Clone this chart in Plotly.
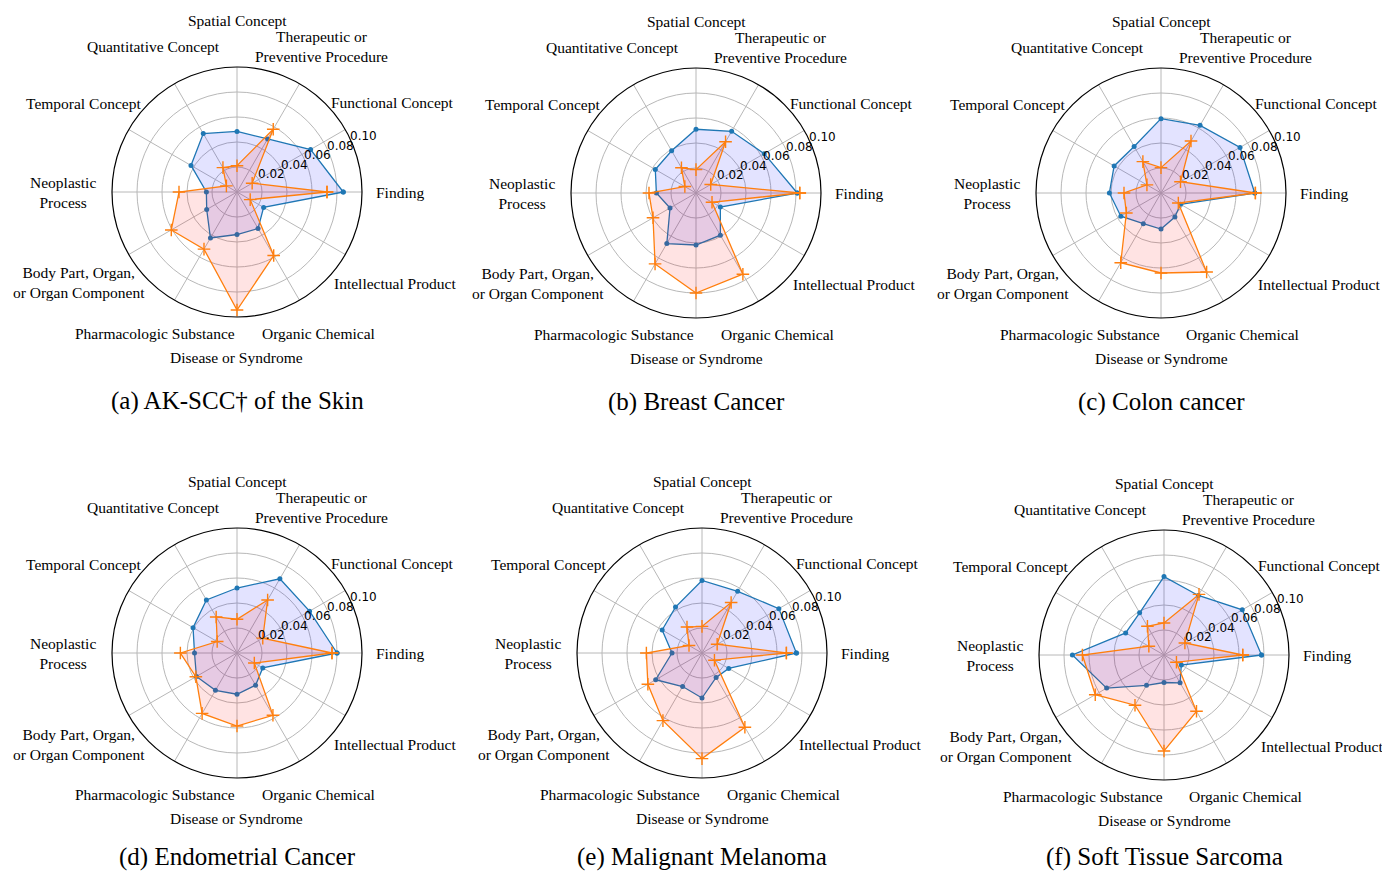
import math
import plotly.graph_objects as go

categories = ["Finding", "Functional Concept", "Therapeutic or Preventive Procedure",
              "Spatial Concept", "Quantitative Concept", "Temporal Concept",
              "Neoplastic Process", "Body Part, Organ, or Organ Component",
              "Pharmacologic Substance", "Disease or Syndrome", "Organic Chemical",
              "Intellectual Product"]
category_labels = ["Finding", "Functional Concept", "Therapeutic or<br>Preventive Procedure",
                   "Spatial Concept", "Quantitative Concept", "Temporal Concept",
                   "Neoplastic<br>Process", "Body Part, Organ,<br>or Organ Component",
                   "Pharmacologic Substance", "Disease or Syndrome", "Organic Chemical",
                   "Intellectual Product"]

titles = ["(a) AK-SCC† of the Skin", "(b) Breast Cancer", "(c) Colon cancer",
          "(d) Endometrial Cancer", "(e) Malignant Melanoma", "(f) Soft Tissue Sarcoma"]

blue_a = [0.085, 0.068, 0.049, 0.0485, 0.054, 0.0425, 0.0245, 0.028, 0.0425, 0.034, 0.0337, 0.0246]
orange_a = [0.072, 0.014, 0.058, 0.021, 0.0225, 0.0098, 0.0464, 0.0607, 0.0528, 0.0944, 0.0587, 0.0122]
blue_b = [0.081, 0.063, 0.057, 0.051, 0.039, 0.0376, 0.0317, 0.024, 0.0467, 0.0416, 0.039, 0.0225]
orange_b = [0.083, 0.0136, 0.0473, 0.0187, 0.0233, 0.0103, 0.0376, 0.0397, 0.0655, 0.080, 0.075, 0.0148]
blue_c = [0.075, 0.073, 0.0625, 0.0595, 0.043, 0.0433, 0.0413, 0.0371, 0.0283, 0.0288, 0.0222, 0.018]
orange_c = [0.0755, 0.018, 0.048, 0.0203, 0.029, 0.013, 0.0296, 0.032, 0.0644, 0.064, 0.073, 0.016]
blue_d = [0.080, 0.067, 0.0686, 0.052, 0.049, 0.0406, 0.034, 0.0375, 0.0345, 0.033, 0.0297, 0.0238]
orange_d = [0.076, 0.0238, 0.049, 0.027, 0.0333, 0.0183, 0.0453, 0.038, 0.0558, 0.0584, 0.0575, 0.016]
blue_e = [0.0755, 0.071, 0.057, 0.058, 0.0424, 0.0368, 0.024, 0.0428, 0.031, 0.036, 0.0226, 0.0247]
orange_e = [0.0675, 0.014, 0.0466, 0.0213, 0.024, 0.012, 0.0445, 0.050, 0.0625, 0.0845, 0.0686, 0.0115]
blue_f = [0.078, 0.0723, 0.055, 0.0627, 0.039, 0.0354, 0.0733, 0.053, 0.028, 0.022, 0.0257, 0.016]
orange_f = [0.063, 0.0193, 0.056, 0.0256, 0.0265, 0.014, 0.0653, 0.0635, 0.0464, 0.0768, 0.052, 0.0115]

blue_series = [blue_a, blue_b, blue_c, blue_d, blue_e, blue_f]
orange_series = [orange_a, orange_b, orange_c, orange_d, orange_e, orange_f]

radial_ticks = [0.02, 0.04, 0.06, 0.08, 0.10]
radial_ticktext = ["0.02", "0.04", "0.06", "0.08", "0.10"]
RMAX = 0.10

# ---- layout (page pixels) ----
W, H = 1382, 873
R = 125
centers = [(237, 192), (696, 193), (1161, 193), (237, 653), (702, 653), (1164, 655)]
label_r = [163, 180, 168, 172, 168, 177, 174, 182, 163, 165, 163, 183]
angles = [i * 30 for i in range(12)]
TICK_ANGLE = 22.5
TICK_SHIFT = (11, -8)
TITLE_DY = 209
TITLE_MAX_Y = H - 16


def px(x):
    return x / W


def py(y):
    return 1 - y / H


BLUE = "#1f77b4"
ORANGE = "#ff7f0e"
SERIF = "Liberation Serif"

fig = go.Figure()
annotations = []
layout_polars = {}

for k in range(6):
    pname = "polar" if k == 0 else f"polar{k+1}"
    cx, cy = centers[k]
    theta = categories + [categories[0]]
    b = blue_series[k] + [blue_series[k][0]]
    o = orange_series[k] + [orange_series[k][0]]
    fig.add_trace(go.Scatterpolar(
        r=b, theta=theta, subplot=pname, mode="lines+markers",
        line=dict(color=BLUE, width=1.3),
        marker=dict(color=BLUE, size=5, symbol="circle"),
        fill="toself", fillcolor="rgba(0,0,255,0.11)", showlegend=False))
    fig.add_trace(go.Scatterpolar(
        r=o, theta=theta, subplot=pname, mode="lines+markers",
        line=dict(color=ORANGE, width=1.3),
        marker=dict(color=ORANGE, size=9, symbol="cross-thin",
                    line=dict(color=ORANGE, width=1.4)),
        fill="toself", fillcolor="rgba(255,0,0,0.11)", showlegend=False))

    layout_polars[pname] = dict(
        domain=dict(x=[px(cx - R), px(cx + R)], y=[py(cy + R), py(cy - R)]),
        bgcolor="white",
        angularaxis=dict(type="category", categoryarray=categories,
                         direction="counterclockwise", rotation=0,
                         showline=True, linecolor="black", linewidth=1.2,
                         gridcolor="#b8b8b8", gridwidth=0.9,
                         showticklabels=False, ticks=""),
        radialaxis=dict(range=[0, RMAX], tickvals=radial_ticks,
                        angle=TICK_ANGLE, showticklabels=False,
                        showline=False, ticks="",
                        gridcolor="#b8b8b8", gridwidth=0.9),
    )

    # radial tick labels placed along the 22.5 degree direction
    for tv, tt in zip(radial_ticks, radial_ticktext):
        rr = R * tv / RMAX
        x = cx + rr * math.cos(math.radians(TICK_ANGLE)) + TICK_SHIFT[0]
        y = cy - rr * math.sin(math.radians(TICK_ANGLE)) + TICK_SHIFT[1]
        annotations.append(dict(text=tt, x=px(x), y=py(y), xref="paper", yref="paper",
                                xanchor="center", yanchor="middle", showarrow=False,
                                font=dict(family="DejaVu Sans", size=12, color="black")))

    for lab, ang, rl in zip(category_labels, angles, label_r):
        x = cx + rl * math.cos(math.radians(ang))
        y = cy - rl * math.sin(math.radians(ang))
        annotations.append(dict(text=lab, x=px(x), y=py(y), xref="paper", yref="paper",
                                xanchor="center", yanchor="middle", showarrow=False,
                                font=dict(family=SERIF, size=15.5, color="black")))
    ty = min(cy + TITLE_DY, TITLE_MAX_Y)
    annotations.append(dict(text=titles[k], x=px(cx), y=py(ty),
                            xref="paper", yref="paper", xanchor="center", yanchor="middle",
                            showarrow=False, font=dict(family=SERIF, size=25, color="black")))

fig.update_layout(width=W, height=H, margin=dict(l=0, r=0, t=0, b=0),
                  paper_bgcolor="white", plot_bgcolor="white",
                  annotations=annotations, showlegend=False, **layout_polars)

fig.write_html("out.html", config={"displayModeBar": False},
               post_script="document.body.style.margin='0';document.body.style.overflow='hidden';")
